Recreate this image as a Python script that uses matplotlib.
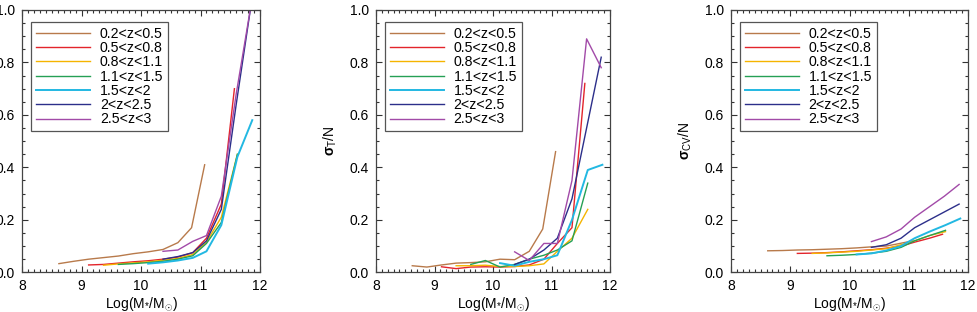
import matplotlib.pyplot as plt
from matplotlib.ticker import MultipleLocator

plt.rcParams['font.family'] = ['Liberation Sans', 'DejaVu Sans']
plt.rcParams['mathtext.fontset'] = 'custom'
plt.rcParams['mathtext.rm'] = 'Liberation Sans'
plt.rcParams['mathtext.it'] = 'Liberation Sans:italic'
plt.rcParams['mathtext.bf'] = 'Liberation Sans:bold'

labels = ['0.2<z<0.5', '0.5<z<0.8', '0.8<z<1.1', '1.1<z<1.5',
          '1.5<z<2', '2<z<2.5', '2.5<z<3']
colors = ['#b87a4b', '#e3242b', '#f5b400', '#25a055',
          '#22b8e2', '#2c2f8a', '#a24aa8']

# log stellar mass bins per redshift slice
mass = [
    [8.62, 8.87, 9.12, 9.37, 9.62, 9.87, 10.12, 10.37, 10.62, 10.85, 11.07],
    [9.12, 9.37, 9.62, 9.87, 10.12, 10.37, 10.62, 10.87, 11.1, 11.35, 11.57],
    [9.37, 9.62, 9.87, 10.12, 10.37, 10.62, 10.87, 11.1, 11.35, 11.62],
    [9.62, 9.87, 10.12, 10.37, 10.62, 10.87, 11.1, 11.35, 11.62],
    [10.12, 10.37, 10.62, 10.87, 11.1, 11.35, 11.62, 11.87],
    [10.37, 10.62, 10.87, 11.1, 11.35, 11.6, 11.85],
    [10.37, 10.62, 10.87, 11.1, 11.35, 11.6, 11.85],
]

# total error sigma/N
sig_tot = [
    [0.033, 0.042, 0.050, 0.056, 0.062, 0.071, 0.078, 0.087, 0.113, 0.17, 0.41],
    [0.028, 0.030, 0.035, 0.040, 0.044, 0.050, 0.058, 0.075, 0.13, 0.26, 0.70],
    [0.027, 0.032, 0.036, 0.040, 0.046, 0.053, 0.068, 0.115, 0.21, 0.45],
    [0.030, 0.033, 0.037, 0.042, 0.050, 0.063, 0.11, 0.19, 0.45],
    [0.033, 0.038, 0.045, 0.055, 0.08, 0.18, 0.44, 0.58],
    [0.050, 0.060, 0.075, 0.12, 0.24, 0.64, 1.02],
    [0.080, 0.085, 0.118, 0.14, 0.29, 0.68, 1.02],
]

# sigma_T/N
sig_t = [
    [0.025, 0.020, 0.028, 0.035, 0.037, 0.040, 0.050, 0.048, 0.080, 0.165, 0.46],
    [0.021, 0.014, 0.020, 0.021, 0.020, 0.022, 0.028, 0.050, 0.11, 0.17, 0.72],
    [0.025, 0.025, 0.027, 0.022, 0.022, 0.025, 0.032, 0.08, 0.13, 0.24],
    [0.030, 0.045, 0.020, 0.030, 0.050, 0.065, 0.085, 0.12, 0.34],
    [0.035, 0.025, 0.040, 0.050, 0.065, 0.20, 0.39, 0.41],
    [0.030, 0.050, 0.085, 0.13, 0.28, 0.55, 0.82],
    [0.078, 0.045, 0.110, 0.11, 0.35, 0.89, 0.78],
]

# sigma_CV/N
sig_cv = [
    [0.082, 0.083, 0.085, 0.086, 0.088, 0.090, 0.093, 0.097, 0.100, 0.11, 0.12],
    [0.072, 0.073, 0.075, 0.078, 0.082, 0.086, 0.092, 0.10, 0.115, 0.13, 0.145],
    [0.072, 0.074, 0.077, 0.080, 0.085, 0.090, 0.105, 0.12, 0.14, 0.155],
    [0.063, 0.065, 0.068, 0.073, 0.080, 0.095, 0.12, 0.14, 0.16],
    [0.068, 0.072, 0.083, 0.100, 0.13, 0.155, 0.18, 0.205],
    [0.095, 0.105, 0.130, 0.17, 0.20, 0.23, 0.26],
    [0.117, 0.135, 0.165, 0.21, 0.25, 0.29, 0.335],
]

panels = [sig_tot, sig_t, sig_cv]
# first panel's y label lies outside the cropped picture
ylabels = [None, r'$\mathbf{\sigma}_{\rm T}$/N', r'$\mathbf{\sigma}_{\rm CV}$/N']

W, H = 977, 312
fig = plt.figure(figsize=(W / 100, H / 100), dpi=100)
boxes = [(22, 260), (376, 610), (731, 968)]
top, bottom = 10, 272.3

for (x0, x1), data, ylab in zip(boxes, panels, ylabels):
    ax = fig.add_axes([x0 / W, 1 - bottom / H, (x1 - x0) / W, (bottom - top) / H])
    for m, s, c, lab in zip(mass, data, colors, labels):
        lw = 1.4 if c == '#22b8e2' else 1.0
        ax.plot(m, s, color=c, lw=lw, label=lab)
    ax.set_xlim(8, 12)
    ax.set_ylim(0, 1.0)
    ax.xaxis.set_major_locator(MultipleLocator(1))
    ax.xaxis.set_minor_locator(MultipleLocator(0.1))
    ax.yaxis.set_major_locator(MultipleLocator(0.2))
    ax.yaxis.set_minor_locator(MultipleLocator(0.05))
    ax.yaxis.set_major_formatter(plt.FormatStrFormatter('%.1f'))
    ax.tick_params(which='both', direction='in', top=True, right=True,
                   labelsize=10, color='#333333', width=0.8)
    ax.tick_params(which='major', length=4.5, pad=5)
    ax.tick_params(which='minor', length=2.2)
    for sp in ax.spines.values():
        sp.set_color('#444444')
        sp.set_linewidth(0.9)
    ax.set_xlabel(r'Log(M$_{*}$/M$_{\odot}$)', fontsize=10, labelpad=1)
    if ylab:
        ax.set_ylabel(ylab, fontsize=10, labelpad=8)
    leg = ax.legend(loc='upper left', bbox_to_anchor=(0.038, 0.955),
                    borderaxespad=0, fancybox=False, fontsize=10.2,
                    handlelength=3.8, handletextpad=0.7, labelspacing=0.02,
                    borderpad=0.35, framealpha=1)
    leg.get_frame().set_edgecolor('#555555')
    leg.get_frame().set_linewidth(0.9)

fig.savefig('out.png', dpi=100)
